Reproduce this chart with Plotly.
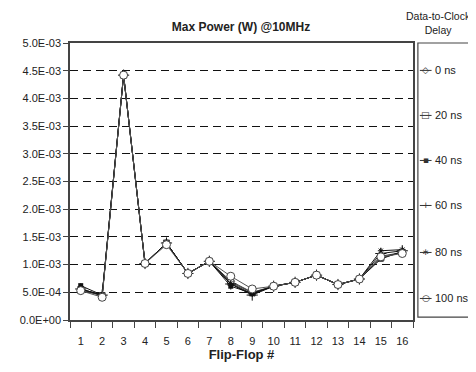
import plotly.graph_objects as go

flip_flops = [str(i) for i in range(1, 17)]

ns0 = [5.4e-4, 4.4e-4, 4.42e-3, 1.02e-3, 1.39e-3, 8.4e-4, 1.06e-3, 7.0e-4, 5.0e-4, 6.1e-4, 6.8e-4, 8.1e-4, 6.4e-4, 7.4e-4, 1.15e-3, 1.22e-3]
ns20 = [5.5e-4, 4.4e-4, 4.42e-3, 1.02e-3, 1.39e-3, 8.4e-4, 1.06e-3, 6.8e-4, 4.9e-4, 6.1e-4, 6.8e-4, 8.1e-4, 6.4e-4, 7.4e-4, 1.12e-3, 1.22e-3]
ns40 = [6.2e-4, 4.5e-4, 4.42e-3, 1.02e-3, 1.39e-3, 8.4e-4, 1.06e-3, 6.1e-4, 4.8e-4, 6.1e-4, 6.8e-4, 8.1e-4, 6.4e-4, 7.4e-4, 1.10e-3, 1.24e-3]
ns60 = [5.6e-4, 4.5e-4, 4.42e-3, 1.02e-3, 1.39e-3, 8.4e-4, 1.06e-3, 6.5e-4, 4.5e-4, 6.1e-4, 6.8e-4, 8.1e-4, 6.4e-4, 7.4e-4, 1.20e-3, 1.25e-3]
ns80 = [5.6e-4, 4.5e-4, 4.42e-3, 1.02e-3, 1.39e-3, 8.4e-4, 1.06e-3, 6.6e-4, 4.7e-4, 6.1e-4, 6.8e-4, 8.1e-4, 6.4e-4, 7.4e-4, 1.25e-3, 1.27e-3]
ns100 = [5.3e-4, 4.1e-4, 4.42e-3, 1.02e-3, 1.36e-3, 8.4e-4, 1.06e-3, 7.9e-4, 5.6e-4, 6.1e-4, 6.8e-4, 8.1e-4, 6.4e-4, 7.4e-4, 1.14e-3, 1.20e-3]

series_names = ["0 ns", "20 ns", "40 ns", "60 ns", "80 ns", "100 ns"]
series_values = [ns0, ns20, ns40, ns60, ns80, ns100]
legend_glyphs = ["◇", "□", "▪", "+", "∗", "○"]

y_tick_vals = [0, 5e-4, 1e-3, 1.5e-3, 2e-3, 2.5e-3, 3e-3, 3.5e-3, 4e-3, 4.5e-3, 5e-3]
y_tick_text = ["0.0E+00", "5.0E-04", "1.0E-03", "1.5E-03", "2.0E-03", "2.5E-03",
               "3.0E-03", "3.5E-03", "4.0E-03", "4.5E-03", "5.0E-03"]

FONT = "Liberation Sans Narrow, Arial Narrow, Liberation Sans, Arial, sans-serif"

styles = [
    dict(symbol="diamond", size=6, color="white", line=dict(color="#444", width=1)),
    dict(symbol="square", size=6, color="white", line=dict(color="#444", width=1)),
    dict(symbol="square", size=5, color="#111", line=dict(color="#111", width=0)),
    dict(symbol="cross-thin", size=8, color="#111", line=dict(color="#111", width=1)),
    dict(symbol="asterisk", size=5, color="#111", line=dict(color="#111", width=1)),
    dict(symbol="circle", size=8, color="white", line=dict(color="#444", width=1)),
]
line_colors = ["#333", "#444", "#111", "#111", "#111", "#555"]

fig = go.Figure()
for i, (name, vals) in enumerate(zip(series_names, series_values)):
    fig.add_trace(go.Scatter(
        x=flip_flops, y=vals, name=name, mode="lines+markers",
        line=dict(color=line_colors[i], width=1),
        marker=styles[i], showlegend=False,
    ))

# The page body adds an 8px offset; figure is sized so it ends at the window edge.
OFF = 8
W, H = 476 - OFF, 372 - OFF
# Plot area in window pixels
L, R, T, B = 62, 413, 43, 326
def px(x):
    return (x - L) / (R - L)
def py(y):
    return (B - y) / (B - T)

shapes = [dict(type="rect", xref="paper", yref="paper",
               x0=px(418), x1=px(474), y0=py(323), y1=py(43),
               line=dict(color="#444", width=1.2), fillcolor="white", layer="below")]
annotations = [dict(text="Data-to-Clock<br>Delay", xref="paper", yref="paper",
                    x=px(439), y=1.0, yshift=5, xanchor="center", yanchor="bottom",
                    showarrow=False, font=dict(size=10.5, family=FONT, color="#222"))]
entry_y = [71, 117, 163, 209, 257, 304]
for name, glyph, ey in zip(series_names, legend_glyphs, entry_y):
    shapes.append(dict(type="line", xref="paper", yref="paper",
                       x0=px(420), x1=px(432), y0=py(ey), y1=py(ey),
                       line=dict(color="#333", width=1)))
    annotations.append(dict(text=glyph, xref="paper", yref="paper", x=px(426), y=py(ey),
                            xanchor="center", yanchor="middle", showarrow=False,
                            font=dict(size=9, family="DejaVu Sans", color="#333")))
    annotations.append(dict(text=name, xref="paper", yref="paper", x=px(433), y=py(ey),
                            xanchor="left", yanchor="middle", showarrow=False,
                            font=dict(size=11, family=FONT, color="#222")))

fig.update_layout(
    width=W, height=H,
    margin=dict(l=L - OFF, r=476 - R, t=T - OFF, b=372 - B),
    paper_bgcolor="white", plot_bgcolor="white",
    font=dict(family=FONT, size=11, color="#222"),
    title=dict(text="<b>Max Power (W) @10MHz</b>", x=(241 - OFF) / W, xanchor="center",
               y=1 - (27 - OFF) / H, yanchor="middle", font=dict(size=12, family=FONT)),
    showlegend=False,
    xaxis=dict(type="category", range=[-0.5, 15.5], showline=True, linecolor="#444",
               linewidth=1.5, mirror=True, ticks="outside", tickson="boundaries",
               ticklen=6, tickcolor="#444", showgrid=False, ticklabelstandoff=10,
               tickangle=0,
               title=dict(text="<b>Flip-Flop #</b>", font=dict(size=13, family=FONT), standoff=4),
               tickfont=dict(size=11)),
    yaxis=dict(range=[0, 5e-3], tickvals=y_tick_vals, ticktext=y_tick_text,
               showline=True, linecolor="#444", linewidth=1.5, mirror=True,
               ticks="outside", ticklen=5, tickcolor="#444",
               showgrid=True, gridcolor="#111", gridwidth=1.3, griddash="8px,5px",
               zeroline=False, tickfont=dict(size=11)),
    shapes=shapes,
    annotations=annotations,
)

fig.write_html("out.html", config={"displayModeBar": False})
